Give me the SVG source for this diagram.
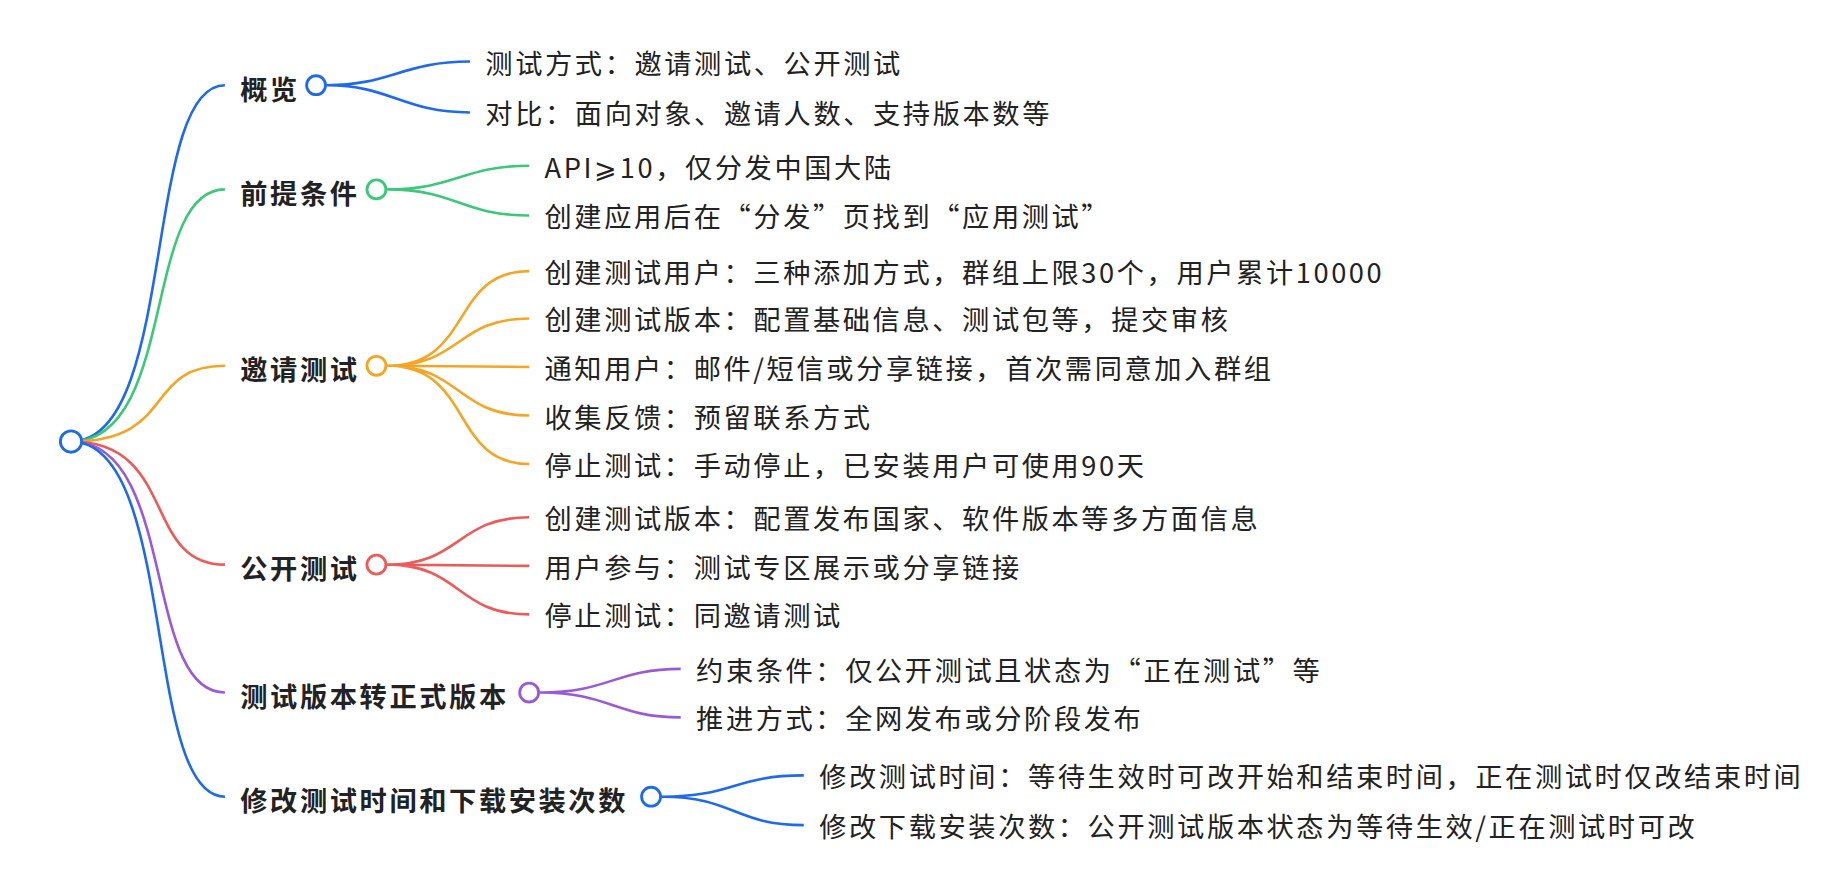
<svg xmlns="http://www.w3.org/2000/svg" width="1847" height="874" viewBox="0 0 1847 874">
<style>
text{font-family:"Noto Sans CJK SC","Noto Sans",sans-serif;font-size:23px;letter-spacing:2.2px;fill:#222;dominant-baseline:central}
.m{font-weight:bold}
path{fill:none;stroke-width:2.2}
circle{fill:#fff;stroke-width:2.4}
.b{stroke:#1f6ae8}.g{stroke:#3cc878}.o{stroke:#f5a524}.r{stroke:#ec5a5a}.p{stroke:#9a5ad8}
</style>
<rect width="1847" height="874" fill="#fff"/>
<g transform="scale(1.1838)">
<g id="connectors">
<path class="b" d="M60,373 C150,373 120,72 190,72"/>
<path class="g" d="M60,373 C150,373 120,160 190,160"/>
<path class="o" d="M60,373 C150,373 120,309 190,309"/>
<path class="r" d="M60,373 C150,373 120,477 190,477"/>
<path class="p" d="M60,373 C150,373 120,585 190,585"/>
<path class="b" d="M60,373 C150,373 120,673 190,673"/>
<path class="b" d="M276,72 C330,72 340,52 397,52 M276,72 C330,72 340,95 397,95"/>
<path class="g" d="M327,160 C385,160 390,140 447,140 M327,160 C385,160 390,182 447,182"/>
<path class="o" d="M327,309 C400,309 380,229 447,229 M327,309 C390,309 385,269 447,269 M327,309 L447,310 M327,309 C390,309 385,351 447,351 M327,309 C400,309 380,392 447,392"/>
<path class="r" d="M327,477 C390,477 385,437 447,437 M327,477 L447,478 M327,477 C390,477 385,519 447,519"/>
<path class="p" d="M456,585 C515,585 520,565 575,565 M456,585 C515,585 520,606 575,606"/>
<path class="b" d="M559,673 C620,673 620,655 679,655 M559,673 C620,673 620,697 679,697"/>
</g>
<g id="root"><circle class="b" cx="60" cy="373" r="9"/></g>
<g id="n1"><text class="m" x="203" y="74">概览</text><circle class="b" cx="267" cy="72" r="8"/></g>
<g id="n2"><text class="m" x="203" y="162">前提条件</text><circle class="g" cx="318" cy="160" r="8"/></g>
<g id="n3"><text class="m" x="203" y="311">邀请测试</text><circle class="o" cx="318" cy="309" r="8"/></g>
<g id="n4"><text class="m" x="203" y="479">公开测试</text><circle class="r" cx="318" cy="477" r="8"/></g>
<g id="n5"><text class="m" x="203" y="587">测试版本转正式版本</text><circle class="p" cx="447" cy="585" r="8"/></g>
<g id="n6"><text class="m" x="203" y="675">修改测试时间和下载安装次数</text><circle class="b" cx="550" cy="673" r="8"/></g>
<g id="leaves">
<text x="410" y="52">测试方式：邀请测试、公开测试</text>
<text x="410" y="95">对比：面向对象、邀请人数、支持版本数等</text>
<text x="460" y="140">API⩾10，仅分发中国大陆</text>
<text x="460" y="182">创建应用后在“分发”页找到“应用测试”</text>
<text x="460" y="229">创建测试用户：三种添加方式，群组上限30个，用户累计10000</text>
<text x="460" y="269">创建测试版本：配置基础信息、测试包等，提交审核</text>
<text x="460" y="310">通知用户：邮件/短信或分享链接，首次需同意加入群组</text>
<text x="460" y="351">收集反馈：预留联系方式</text>
<text x="460" y="392">停止测试：手动停止，已安装用户可使用90天</text>
<text x="460" y="437">创建测试版本：配置发布国家、软件版本等多方面信息</text>
<text x="460" y="478">用户参与：测试专区展示或分享链接</text>
<text x="460" y="519">停止测试：同邀请测试</text>
<text x="588" y="565">约束条件：仅公开测试且状态为“正在测试”等</text>
<text x="588" y="606">推进方式：全网发布或分阶段发布</text>
<text x="692" y="655">修改测试时间：等待生效时可改开始和结束时间，正在测试时仅改结束时间</text>
<text x="692" y="697">修改下载安装次数：公开测试版本状态为等待生效/正在测试时可改</text>
</g>
</g>
</svg>
